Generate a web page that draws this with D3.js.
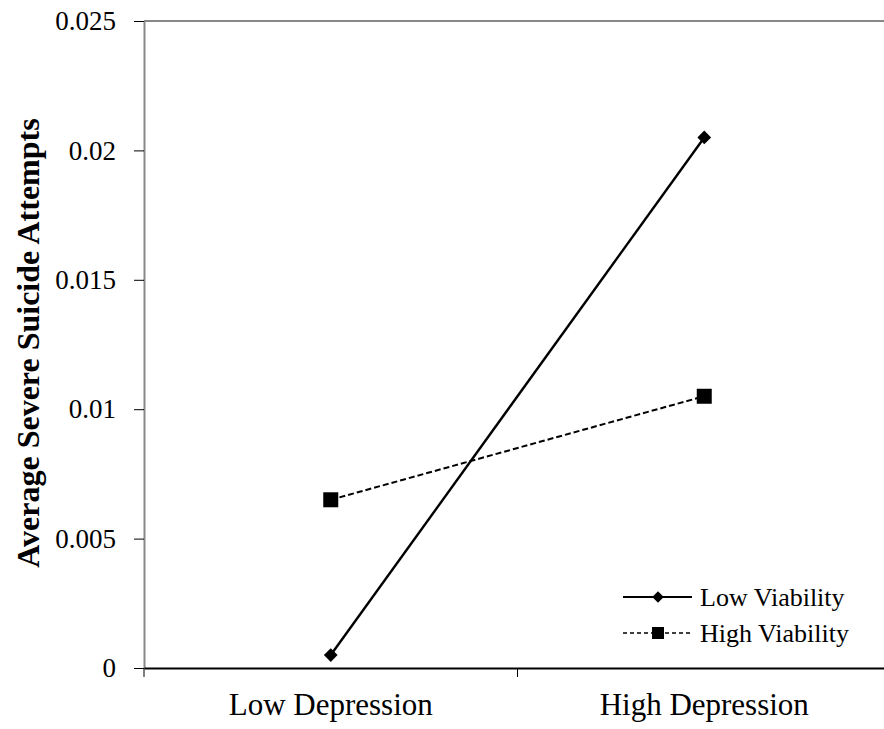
<!DOCTYPE html>
<html>
<head>
<meta charset="utf-8">
<script src="https://cdn.jsdelivr.net/npm/d3@7"></script>
<style>
  body { margin: 0; background: #fff; }
  svg { display: block; }
  text { font-family: "Liberation Serif", "Times New Roman", serif; }
</style>
</head>
<body>
<svg width="884" height="729"></svg>
<script>
const categories = ['Low Depression', 'High Depression'];
const lowViability = [0.0005, 0.0205];
const highViability = [0.0065, 0.0105];
const yTicks = [0, 0.005, 0.01, 0.015, 0.02, 0.025];
const yTickLabels = ['0', '0.005', '0.01', '0.015', '0.02', '0.025'];

const series = [
  { name: 'Low Viability', values: lowViability, dash: null, marker: 'diamond' },
  { name: 'High Viability', values: highViability, dash: '6,3', marker: 'square' }
];

const svg = d3.select('svg');
const margin = { top: 21, right: -7, bottom: 61, left: 144 };
const width = +svg.attr('width');
const height = +svg.attr('height');
const innerWidth = width - margin.left - margin.right;
const innerHeight = height - margin.top - margin.bottom;

const g = svg.append('g')
  .attr('transform', `translate(${margin.left},${margin.top})`);

const xScale = d3.scaleBand()
  .domain(categories)
  .range([0, innerWidth]);

const yScale = d3.scaleLinear()
  .domain([0, 0.025])
  .range([innerHeight, 0]);

// top border of plot area
g.append('line')
  .attr('x1', 0).attr('x2', width - margin.left)
  .attr('y1', 0).attr('y2', 0)
  .attr('stroke', '#888').attr('stroke-width', 2);

// y axis
const yAxis = d3.axisLeft(yScale)
  .tickValues(yTicks)
  .tickFormat((d, i) => yTickLabels[i])
  .tickSize(10)
  .tickSizeOuter(0)
  .tickPadding(18);
const yg = g.append('g').call(yAxis);
yg.select('.domain').attr('stroke', '#888').attr('stroke-width', 2);
yg.selectAll('.tick line').attr('stroke', '#000');
yg.selectAll('.tick text')
  .attr('font-size', 27)
  .attr('fill', '#000');

// x axis
const xAxis = d3.axisBottom(xScale).tickSize(0).tickSizeOuter(0);
const xg = g.append('g')
  .attr('transform', `translate(0,${innerHeight})`)
  .call(xAxis);
xg.select('.domain').attr('stroke', '#000').attr('stroke-width', 2);
xg.selectAll('.tick text')
  .attr('y', 47)
  .attr('dy', null)
  .attr('font-size', 31)
  .attr('fill', '#000');
// boundary ticks between categories
const boundaries = categories.map(c => xScale(c));
xg.selectAll('.bound')
  .data(boundaries)
  .enter().append('line')
  .attr('x1', d => d).attr('x2', d => d)
  .attr('y1', 0).attr('y2', 9)
  .attr('stroke', '#000').attr('stroke-width', 1);

// y title
svg.append('text')
  .attr('transform', `translate(39,343) rotate(-90)`)
  .attr('text-anchor', 'middle')
  .attr('font-size', 32)
  .attr('font-weight', 'bold')
  .text('Average Severe Suicide Attempts');

const cx = c => xScale(c) + xScale.bandwidth() / 2;
const line = d3.line()
  .x((d, i) => cx(categories[i]))
  .y(d => yScale(d));

function drawMarker(sel, type, x, y, sz) {
  if (type === 'diamond') {
    sel.append('path')
      .attr('d', d3.symbol().type(d3.symbolDiamond2).size(sz.d)())
      .attr('transform', `translate(${x},${y})`)
      .attr('fill', '#000');
  } else {
    sel.append('rect')
      .attr('x', x - sz.s / 2).attr('y', y - sz.s / 2)
      .attr('width', sz.s).attr('height', sz.s)
      .attr('fill', '#000');
  }
}

series.forEach(s => {
  g.append('path')
    .datum(s.values)
    .attr('d', line)
    .attr('fill', 'none')
    .attr('stroke', '#000')
    .attr('stroke-width', s.dash ? 2 : 2.4)
    .attr('stroke-dasharray', s.dash);
  s.values.forEach((v, i) => drawMarker(g, s.marker, cx(categories[i]), yScale(v), { d: 120, s: 15 }));
});

// legend
const legend = svg.append('g').attr('transform', 'translate(623,597)');
series.forEach((s, i) => {
  const ly = i * 36;
  legend.append('line')
    .attr('x1', 0).attr('x2', 69)
    .attr('y1', ly).attr('y2', ly)
    .attr('stroke', '#000')
    .attr('stroke-width', s.dash ? 1.4 : 2.2)
    .attr('stroke-dasharray', s.dash ? '4,3' : null);
  drawMarker(legend, s.marker, 35, ly, { d: 85, s: 12 });
  legend.append('text')
    .attr('x', 77).attr('y', ly)
    .attr('dy', '0.33em')
    .attr('font-size', 26)
    .text(s.name);
});
</script>
</body>
</html>
